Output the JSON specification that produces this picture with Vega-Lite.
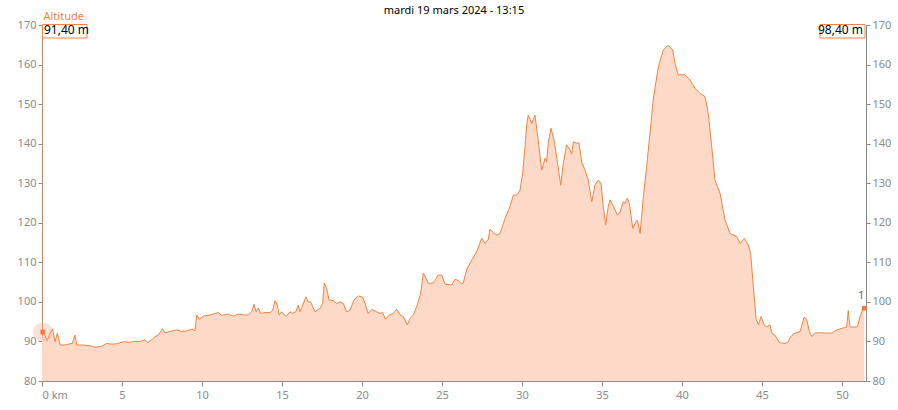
{
  "$schema": "https://vega.github.io/schema/vega-lite/v6.json",
  "width": 824,
  "height": 356,
  "autosize": {"type": "none"},
  "padding": {"left": 42, "top": 25, "right": 32, "bottom": 29},
  "background": "white",
  "config": {
    "view": {"stroke": null},
    "font": "Noto Sans",
    "axis": {"grid": false, "labelFont": "Noto Sans", "labelFontSize": 11, "labelColor": "#8a8a8a", "domainColor": "#8a8a8a", "tickColor": "#8a8a8a", "tickSize": 5, "labelPadding": 2}
  },
  "title": {"text": "mardi 19 mars 2024 - 13:15", "fontSize": 11, "fontWeight": "normal", "color": "#000000", "anchor": "middle", "frame": "group", "offset": -6},
  "datasets": {
    "profile": [
      {"km": 0, "alt": 91.4}, {"km": 0.08, "alt": 92.5}, {"km": 0.33, "alt": 90.2}, {"km": 0.5, "alt": 92.1}, {"km": 0.67, "alt": 93.1}, {"km": 0.81, "alt": 89.9}, {"km": 0.96, "alt": 92.1}, {"km": 1.13, "alt": 89.1}, {"km": 1.44, "alt": 89.1}, {"km": 1.75, "alt": 89.4}, {"km": 1.89, "alt": 89.5}, {"km": 2.06, "alt": 91.6}, {"km": 2.17, "alt": 89.1}, {"km": 2.58, "alt": 89.1}, {"km": 3.0, "alt": 88.9}, {"km": 3.31, "alt": 88.5}, {"km": 3.73, "alt": 88.8}, {"km": 4.04, "alt": 89.5}, {"km": 4.36, "alt": 89.3}, {"km": 4.67, "alt": 89.4}, {"km": 5.08, "alt": 89.9}, {"km": 5.5, "alt": 89.8}, {"km": 5.71, "alt": 90.0}, {"km": 6.13, "alt": 90.0}, {"km": 6.44, "alt": 90.4}, {"km": 6.58, "alt": 89.7}, {"km": 6.86, "alt": 90.4}, {"km": 7.06, "alt": 91.2}, {"km": 7.27, "alt": 91.6}, {"km": 7.54, "alt": 93.2}, {"km": 7.69, "alt": 92.2}, {"km": 8.0, "alt": 92.5}, {"km": 8.42, "alt": 92.9}, {"km": 8.73, "alt": 92.5}, {"km": 9.04, "alt": 92.7}, {"km": 9.36, "alt": 93.1}, {"km": 9.56, "alt": 92.7}, {"km": 9.67, "alt": 96.7}, {"km": 9.83, "alt": 95.6}, {"km": 10.08, "alt": 96.4}, {"km": 10.5, "alt": 96.7}, {"km": 11.02, "alt": 97.3}, {"km": 11.23, "alt": 96.6}, {"km": 11.64, "alt": 96.9}, {"km": 11.96, "alt": 96.4}, {"km": 12.27, "alt": 96.9},
      {"km": 12.58, "alt": 96.7}, {"km": 12.89, "alt": 96.7}, {"km": 13.11, "alt": 97.5}, {"km": 13.25, "alt": 99.4}, {"km": 13.38, "alt": 97.5}, {"km": 13.52, "alt": 98.4}, {"km": 13.67, "alt": 97.1}, {"km": 13.94, "alt": 97.3}, {"km": 14.25, "alt": 97.3}, {"km": 14.42, "alt": 97.9}, {"km": 14.56, "alt": 100.3}, {"km": 14.67, "alt": 99.6}, {"km": 14.83, "alt": 96.7}, {"km": 14.98, "alt": 97.5}, {"km": 15.25, "alt": 96.3}, {"km": 15.5, "alt": 97.5}, {"km": 15.67, "alt": 97.1}, {"km": 15.86, "alt": 97.5}, {"km": 16.02, "alt": 99.2}, {"km": 16.13, "alt": 97.5}, {"km": 16.5, "alt": 101.3}, {"km": 16.64, "alt": 100.0}, {"km": 16.79, "alt": 100.0}, {"km": 17.06, "alt": 97.5}, {"km": 17.38, "alt": 98.4}, {"km": 17.54, "alt": 99.6}, {"km": 17.64, "alt": 104.7}, {"km": 17.79, "alt": 103.4}, {"km": 17.94, "alt": 100.5}, {"km": 18.21, "alt": 100.3}, {"km": 18.42, "alt": 99.6}, {"km": 18.63, "alt": 100.0}, {"km": 18.83, "alt": 99.6}, {"km": 19.04, "alt": 97.5}, {"km": 19.25, "alt": 97.9}, {"km": 19.5, "alt": 100.5}, {"km": 19.77, "alt": 101.5}, {"km": 20.04, "alt": 101.2}, {"km": 20.19, "alt": 99.6}, {"km": 20.39, "alt": 97.1}, {"km": 20.61, "alt": 98.1}, {"km": 20.92, "alt": 97.5}, {"km": 21.13, "alt": 97.1}, {"km": 21.29, "alt": 97.3}, {"km": 21.46, "alt": 95.6}, {"km": 21.71, "alt": 96.7}, {"km": 21.96, "alt": 97.1}, {"km": 22.17, "alt": 98.1}, {"km": 22.38, "alt": 96.7}, {"km": 22.58, "alt": 96.3}, {"km": 22.83, "alt": 94.2}, {"km": 23.0, "alt": 95.8}, {"km": 23.21, "alt": 96.7}, {"km": 23.42, "alt": 98.8}, {"km": 23.67, "alt": 102.2}, {"km": 23.83, "alt": 107.2}, {"km": 24.0, "alt": 106.0}, {"km": 24.14, "alt": 104.7}, {"km": 24.46, "alt": 104.8}, {"km": 24.77, "alt": 106.8}, {"km": 24.98, "alt": 106.8}, {"km": 25.19, "alt": 104.5}, {"km": 25.61, "alt": 104.3}, {"km": 25.81, "alt": 105.7}, {"km": 26.02, "alt": 105.4}, {"km": 26.23, "alt": 104.5}, {"km": 26.33, "alt": 104.8}, {"km": 26.54, "alt": 108.1}, {"km": 26.86, "alt": 110.6}, {"km": 27.17, "alt": 112.7}, {"km": 27.48, "alt": 116.1}, {"km": 27.69, "alt": 114.8}, {"km": 27.89, "alt": 115.8}, {"km": 28.0, "alt": 118.4}, {"km": 28.21, "alt": 117.5}, {"km": 28.42, "alt": 116.9}, {"km": 28.63, "alt": 117.3}, {"km": 28.94, "alt": 121.1}, {"km": 29.25, "alt": 124.1}, {"km": 29.46, "alt": 127.0}, {"km": 29.67, "alt": 127.0}, {"km": 29.88, "alt": 128.3}, {"km": 30.04, "alt": 132.5}, {"km": 30.19, "alt": 139.2}, {"km": 30.29, "alt": 144.7}, {"km": 30.39, "alt": 147.2}, {"km": 30.61, "alt": 145.1}, {"km": 30.81, "alt": 147.2}, {"km": 30.96, "alt": 142.6}, {"km": 31.23, "alt": 133.3}, {"km": 31.44, "alt": 136.3}, {"km": 31.54, "alt": 135.4}, {"km": 31.64, "alt": 140.1}, {"km": 31.81, "alt": 143.9}, {"km": 32.0, "alt": 140.9}, {"km": 32.21, "alt": 135.4}, {"km": 32.42, "alt": 129.5}, {"km": 32.58, "alt": 135.0}, {"km": 32.79, "alt": 139.7}, {"km": 33.0, "alt": 138.4}, {"km": 33.11, "alt": 137.4}, {"km": 33.21, "alt": 140.5}, {"km": 33.42, "alt": 140.1}, {"km": 33.56, "alt": 140.2}, {"km": 33.73, "alt": 135.4}, {"km": 33.94, "alt": 133.3}, {"km": 34.14, "alt": 130.8}, {"km": 34.36, "alt": 125.3}, {"km": 34.56, "alt": 129.5}, {"km": 34.77, "alt": 130.8}, {"km": 34.94, "alt": 130.0}, {"km": 35.08, "alt": 124.1}, {"km": 35.23, "alt": 119.4}, {"km": 35.39, "alt": 124.1}, {"km": 35.5, "alt": 125.8}, {"km": 35.71, "alt": 124.1}, {"km": 35.96, "alt": 122.0}, {"km": 36.13, "alt": 122.7}, {"km": 36.33, "alt": 125.3}, {"km": 36.44, "alt": 124.9}, {"km": 36.58, "alt": 126.2}, {"km": 36.71, "alt": 124.9}, {"km": 36.92, "alt": 118.6}, {"km": 37.13, "alt": 120.3}, {"km": 37.21, "alt": 120.7}, {"km": 37.38, "alt": 117.3}, {"km": 37.58, "alt": 126.3}, {"km": 37.79, "alt": 134.2}, {"km": 38.04, "alt": 144.3}, {"km": 38.21, "alt": 151.5}, {"km": 38.52, "alt": 159.4}, {"km": 38.83, "alt": 163.7}, {"km": 39.14, "alt": 164.9}, {"km": 39.42, "alt": 163.7}, {"km": 39.56, "alt": 160.3}, {"km": 39.77, "alt": 157.4}, {"km": 40.19, "alt": 157.4}, {"km": 40.5, "alt": 156.1}, {"km": 40.81, "alt": 154.0}, {"km": 41.13, "alt": 152.7}, {"km": 41.44, "alt": 151.9}, {"km": 41.64, "alt": 147.7}, {"km": 41.86, "alt": 139.2}, {"km": 42.06, "alt": 130.8}, {"km": 42.38, "alt": 127.4}, {"km": 42.69, "alt": 120.7}, {"km": 43.0, "alt": 117.3}, {"km": 43.42, "alt": 116.5}, {"km": 43.63, "alt": 114.8}, {"km": 43.89, "alt": 116.1}, {"km": 44.14, "alt": 114.4}, {"km": 44.29, "alt": 112.3}, {"km": 44.46, "alt": 103.8}, {"km": 44.63, "alt": 95.8}, {"km": 44.77, "alt": 94.2}, {"km": 44.94, "alt": 96.3}, {"km": 45.13, "alt": 94.2}, {"km": 45.29, "alt": 93.7}, {"km": 45.5, "alt": 94.2}, {"km": 45.61, "alt": 92.1}, {"km": 45.81, "alt": 91.6}, {"km": 46.08, "alt": 89.7}, {"km": 46.44, "alt": 89.5}, {"km": 46.64, "alt": 89.9}, {"km": 46.79, "alt": 91.2}, {"km": 47.06, "alt": 92.1}, {"km": 47.38, "alt": 92.5}, {"km": 47.63, "alt": 96.1}, {"km": 47.79, "alt": 95.6}, {"km": 47.96, "alt": 92.5}, {"km": 48.11, "alt": 91.2}, {"km": 48.31, "alt": 92.1}, {"km": 48.63, "alt": 92.2}, {"km": 48.94, "alt": 92.1}, {"km": 49.36, "alt": 92.1}, {"km": 49.67, "alt": 92.9}, {"km": 49.98, "alt": 93.3}, {"km": 50.29, "alt": 93.6}, {"km": 50.39, "alt": 97.8}, {"km": 50.5, "alt": 93.7}, {"km": 50.81, "alt": 93.6}, {"km": 50.96, "alt": 93.7}, {"km": 51.13, "alt": 96.3}, {"km": 51.27, "alt": 97.8}, {"km": 51.39, "alt": 98.4}
    ],
    "labels": [
      {"label": "91,40 m", "km": 0, "alt": 170, "side": "start"},
      {"label": "98,40 m", "km": 51.5, "alt": 170, "side": "end"}
    ],
    "markers": [
      {"km": 0.05, "alt": 92.4, "side": "start", "tag": ""},
      {"km": 51.39, "alt": 98.4, "side": "end", "tag": "1"}
    ]
  },
  "resolve": {"axis": {"y": "independent"}},
  "layer": [
    {
      "data": {"name": "profile"},
      "mark": {"type": "area", "color": "#fddac7", "opacity": 1, "line": {"color": "#ef8444", "strokeWidth": 1}},
      "encoding": {
        "x": {"field": "km", "type": "quantitative", "scale": {"domain": [0, 51.5], "nice": false, "zero": false},
          "axis": {"values": [0, 5, 10, 15, 20, 25, 30, 35, 40, 45, 50], "title": null, "labelFlush": true, "labelExpr": "datum.value == 0 ? '0 km' : datum.label", "tickSize": 5, "labelPadding": 3}},
        "y": {"field": "alt", "type": "quantitative", "scale": {"domain": [80, 170], "nice": false, "zero": false},
          "axis": {"orient": "left", "values": [80, 90, 100, 110, 120, 130, 140, 150, 160, 170], "tickSize": 4, "domainColor": "#c0866a",
            "title": "Altitude", "titleAngle": 0, "titleAlign": "left", "titleBaseline": "bottom", "titleX": 1, "titleY": -4, "titleColor": "#ef8444", "titleFont": "Noto Sans", "titleFontSize": 11, "titleFontWeight": "normal"}},
        "y2": {"datum": 80}
      }
    },
    {
      "data": {"name": "profile"},
      "mark": {"type": "line", "opacity": 0},
      "encoding": {
        "x": {"field": "km", "type": "quantitative"},
        "y": {"field": "alt", "type": "quantitative",
          "axis": {"orient": "right", "values": [80, 90, 100, 110, 120, 130, 140, 150, 160, 170], "tickSize": 4, "title": null}}
      }
    },
    {
      "data": {"name": "markers"},
      "transform": [{"filter": "datum.side == 'start'"}],
      "mark": {"type": "circle", "size": 380, "color": "#f4a98a", "opacity": 0.35},
      "encoding": {"x": {"field": "km", "type": "quantitative"}, "y": {"field": "alt", "type": "quantitative", "axis": null}}
    },
    {
      "data": {"name": "markers"},
      "mark": {"type": "square", "size": 22, "color": "#ef7a3a", "opacity": 1},
      "encoding": {"x": {"field": "km", "type": "quantitative"}, "y": {"field": "alt", "type": "quantitative", "axis": null}}
    },
    {
      "data": {"name": "markers"},
      "mark": {"type": "text", "fontSize": 11, "color": "#666666", "dx": -3, "dy": -12, "font": "Noto Sans"},
      "encoding": {"x": {"field": "km", "type": "quantitative"}, "y": {"field": "alt", "type": "quantitative", "axis": null}, "text": {"field": "tag"}}
    },
    {
      "data": {"name": "labels"},
      "transform": [{"filter": "datum.side == 'start'"}],
      "mark": {"type": "rect", "fill": "white", "stroke": "#ef8444", "strokeWidth": 1, "xOffset": 0.5, "x2Offset": 45, "yOffset": -0.5, "y2Offset": 13},
      "encoding": {"x": {"field": "km", "type": "quantitative"}, "x2": {"field": "km"}, "y": {"field": "alt", "type": "quantitative", "axis": null}, "y2": {"field": "alt"}}
    },
    {
      "data": {"name": "labels"},
      "transform": [{"filter": "datum.side == 'end'"}],
      "mark": {"type": "rect", "fill": "white", "stroke": "#ef8444", "strokeWidth": 1, "xOffset": -46, "x2Offset": -1, "yOffset": -0.5, "y2Offset": 13},
      "encoding": {"x": {"field": "km", "type": "quantitative"}, "x2": {"field": "km"}, "y": {"field": "alt", "type": "quantitative", "axis": null}, "y2": {"field": "alt"}}
    },
    {
      "data": {"name": "labels"},
      "transform": [{"filter": "datum.side == 'start'"}],
      "mark": {"type": "text", "align": "left", "baseline": "top", "dx": 2, "dy": 0, "fontSize": 12, "color": "#000000", "font": "Noto Sans"},
      "encoding": {"x": {"field": "km", "type": "quantitative"}, "y": {"field": "alt", "type": "quantitative", "axis": null}, "text": {"field": "label"}}
    },
    {
      "data": {"name": "labels"},
      "transform": [{"filter": "datum.side == 'end'"}],
      "mark": {"type": "text", "align": "right", "baseline": "top", "dx": -3, "dy": 0, "fontSize": 12, "color": "#000000", "font": "Noto Sans"},
      "encoding": {"x": {"field": "km", "type": "quantitative"}, "y": {"field": "alt", "type": "quantitative", "axis": null}, "text": {"field": "label"}}
    }
  ]
}
